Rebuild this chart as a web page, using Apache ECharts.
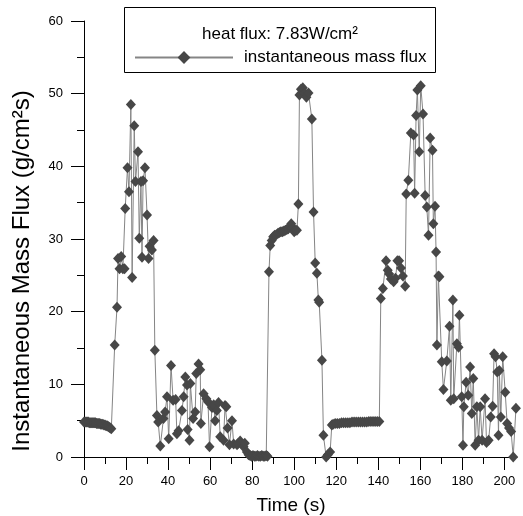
<!DOCTYPE html>
<html><head><meta charset="utf-8">
<script src="https://cdn.jsdelivr.net/npm/echarts@6/dist/echarts.min.js"></script>
<style>html,body{margin:0;padding:0;background:#fff}#c{width:523px;height:516px}</style>
</head><body><div id="c"></div>
<script>
const xTickValues = [0,20,40,60,80,100,120,140,160,180,200];
const xMinorTickValues = [10,30,50,70,90,110,130,150,170,190];
const legendTitle = 'heat flux: 7.83W/cm²';
const seriesName = 'instantaneous mass flux';
const xTitle = 'Time (s)';
const yTitle = 'Instantaneous Mass Flux (g/cm²s)';

// [time (s), mass flux (g/cm²s)]
const baseline1 = [[0,4.8],[0.5,4.8],[1,4.8],[1.5,4.8],[2,4.8],[2.5,4.7],[3,4.7],[3.5,4.7],[4,4.7],[4.5,4.7],[5,4.7],[5.5,4.7],[6,4.6],[6.5,4.6],[7,4.6],[7.5,4.6],[8,4.5],[8.5,4.5],[9,4.5],[9.5,4.4],[10,4.4],[10.5,4.3],[11,4.3],[11.5,4.2],[12,4.1],[12.5,4.0],[13,3.9]];
const peak1 = [[14.6,15.4],[15.7,20.6],[16.2,27.3],[16.9,25.9],[17.7,27.6],[18.5,25.9],[19.3,25.9],[19.6,34.2],[20.7,39.8],[21.4,36.5],[22.3,48.5],[22.9,24.7],[23.9,45.6],[24.5,37.9],[25.7,42.0],[26.3,30.1],[27.1,37.9],[27.6,27.5],[28.1,38.0],[29.0,39.8],[30.0,33.3],[30.7,27.3],[31.2,29.0],[32.3,28.5],[33.1,29.8],[33.7,14.7]];
const low1 = [[34.7,5.7],[35.3,4.8],[36.3,1.5],[37.8,5.3],[38.6,6.2],[39.5,8.3],[40.3,2.5],[41.4,12.6],[42.4,7.8],[43.6,7.9],[44.2,3.2],[45.0,3.6],[46.6,6.4],[47.4,8.3],[48.2,11.0],[49.0,9.9],[49.3,3.8],[50.2,2.3],[50.6,10.1],[51.9,5.3],[52.9,6.2],[53.4,11.5],[54.5,12.8],[55.3,12.0],[55.6,4.6],[56.9,8.7],[58.2,8.0],[59.0,7.6],[59.7,1.4],[60.9,6.8],[61.7,7.2],[62.4,5.0],[63.2,6.4],[64.0,7.5],[64.8,2.8],[66.4,2.3],[67.1,7.1],[67.7,6.9],[68.3,4.0],[69.2,1.7],[70.4,5.0],[71.2,1.8],[72.8,1.7],[73.4,1.9],[74.3,2.2],[75.9,1.4],[76.5,1.9],[77.5,0.7],[78.3,0.3]];
const zero1 = [[79,0.2],[79.7,0.1],[80.4,0.2],[81.1,0.1],[81.8,0.1],[82.5,0.2],[83.2,0.1],[83.9,0.1],[84.6,0.2],[85.3,0.1],[86,0.1],[86.7,0.2],[87.3,0.1]];
const peak2 = [[88.0,25.5],[88.6,29.1],[89.3,29.8],[90,30.3],[90.7,30.5],[91.5,30.6],[92.3,30.8],[93,30.9],[93.7,31.0],[94.4,31.0],[95.1,31.1],[95.8,31.2],[96.5,31.3],[97.2,31.4],[97.9,31.7],[98.6,32.1],[99.3,31.5],[100,31.0],[100.7,31.2],[101.3,31.2],[102.0,34.8],[102.5,49.8],[103.2,50.6],[104.1,50.8],[105,50.1],[105.8,49.5],[106.8,50.1],[108.4,46.5],[109.2,33.7],[110.0,26.7],[110.8,25.3],[111.5,21.6],[111.9,21.3],[113.2,13.3],[113.9,3.0],[115.2,0.0],[116,0.3],[117.1,0.7],[117.9,4.4]];
const baseline2 = [[118.5,4.5],[119.5,4.6],[120.5,4.6],[121.5,4.6],[122.5,4.7],[123.5,4.7],[124.5,4.7],[125.5,4.7],[126.5,4.7],[127.5,4.8],[128.5,4.8],[129.5,4.8],[130.5,4.8],[131.5,4.8],[132.5,4.8],[133.5,4.8],[134.5,4.8],[135.5,4.9],[136.5,4.9],[137.5,4.9],[138.5,4.9],[139.5,4.9],[140.5,4.9]];
const peak3 = [[141.2,21.8],[142.2,23.2],[143.7,27.0],[144.5,25.7],[145.2,25.2],[146,24.5],[147.3,24.1],[148.2,24.6],[149.1,27.0],[149.9,27.0],[150.8,26.0],[151.7,24.9],[152.8,23.5],[153.3,36.2],[154.3,38.1],[155.5,44.6],[156.8,44.3],[157.3,36.3],[158,47.0],[158.6,50.5],[159.5,42.0],[160.2,51.1],[161.3,47.2],[162.3,36.0],[163.1,34.4],[163.9,30.5],[164.7,43.9],[165.8,42.2],[166.2,32.1],[167.0,34.5],[167.5,28.2],[167.9,15.4],[168.6,24.9],[169.1,24.8]];
const tail = [[170.2,13.1],[171.0,9.3],[172.6,13.2],[173.9,18.0],[174.5,7.8],[175.5,21.6],[175.9,8.0],[177.4,15.6],[178.2,15.1],[178.6,19.5],[179.7,8.3],[180.3,1.6],[180.7,6.9],[181.8,10.3],[182.8,8.5],[183.7,12.4],[184.5,6.0],[185.2,10.8],[186.1,1.6],[186.9,6.9],[187.7,2.3],[188.5,6.9],[189.4,2.3],[190.8,8.0],[191.5,2.0],[192.5,2.3],[193.5,5.5],[194.4,7.0],[195.1,14.2],[195.8,13.8],[196.6,11.7],[197.2,3.0],[197.6,11.9],[198.3,5.5],[199.2,13.8],[200.4,8.9],[201.3,4.6],[202.2,4.0],[203.2,3.5],[204.2,0.0],[205.5,6.7]];

const massFlux = [].concat(baseline1, peak1, low1, zero1, peak2, baseline2, peak3, tail);

const FONT = 'Liberation Sans, Arial, Helvetica, sans-serif';
const chart = echarts.init(document.getElementById('c'), null, {renderer: 'canvas'});
chart.setOption({
  animation: false,
  backgroundColor: '#fff',
  grid: {left: 84, right: 6, top: 21, bottom: 59, containLabel: false},
  xAxis: [{
    type: 'value', min: 0, max: 206, interval: 20,
    axisLine: {show: true, onZero: false, lineStyle: {color: '#000', width: 1}},
    axisTick: {show: true, customValues: xTickValues, length: 13, lineStyle: {color: '#000', width: 1}},
    axisLabel: {customValues: xTickValues, fontSize: 13, color: '#000', margin: 18, fontFamily: FONT},
    splitLine: {show: false}
  }, {
    type: 'value', min: 0, max: 206, interval: 10, position: 'bottom', gridIndex: 0,
    axisLine: {show: false},
    axisTick: {show: true, customValues: xMinorTickValues, length: 7, lineStyle: {color: '#000', width: 1}},
    axisLabel: {show: false},
    splitLine: {show: false}
  }],
  yAxis: {
    type: 'value', min: 0, max: 60, interval: 10,
    axisLine: {show: true, lineStyle: {color: '#000', width: 1}},
    axisTick: {show: true, length: 13, lineStyle: {color: '#000', width: 1}},
    minorTick: {show: true, splitNumber: 2, length: 7, lineStyle: {color: '#000', width: 1}},
    axisLabel: {fontSize: 13, color: '#000', margin: 21, fontFamily: FONT},
    splitLine: {show: false}
  },
  legend: {
    show: true, left: 134, top: 49, orient: 'horizontal', z: 10,
    itemWidth: 98, itemHeight: 16, padding: 0,
    textStyle: {fontSize: 17, color: '#000', fontFamily: FONT, padding: [0, 0, 0, 6]},
    data: [seriesName]
  },
  graphic: [
    {type: 'rect', z: 1, shape: {x: 124.5, y: 7.5, width: 311, height: 65}, style: {fill: '#fff', stroke: '#000', lineWidth: 1}},
    {type: 'text', z: 2, x: 280, y: 34, style: {text: legendTitle, fontSize: 17, fontFamily: FONT, fill: '#000', align: 'center', verticalAlign: 'middle'}},
    {type: 'text', z: 2, x: 291, y: 506, style: {text: xTitle, fontSize: 19, fontFamily: FONT, fill: '#000', align: 'center', verticalAlign: 'middle'}},
    {type: 'text', z: 2, x: 22, y: 271, rotation: Math.PI / 2, style: {text: yTitle, fontSize: 24, fontFamily: FONT, fill: '#000', align: 'center', verticalAlign: 'middle'}}
  ],
  series: [{
    name: seriesName, type: 'line', data: massFlux, clip: false,
    symbol: 'diamond', symbolSize: [10, 11], showAllSymbol: true,
    lineStyle: {color: '#858585', width: 1},
    itemStyle: {color: '#474747'},
    z: 3
  }]
});
</script></body></html>
